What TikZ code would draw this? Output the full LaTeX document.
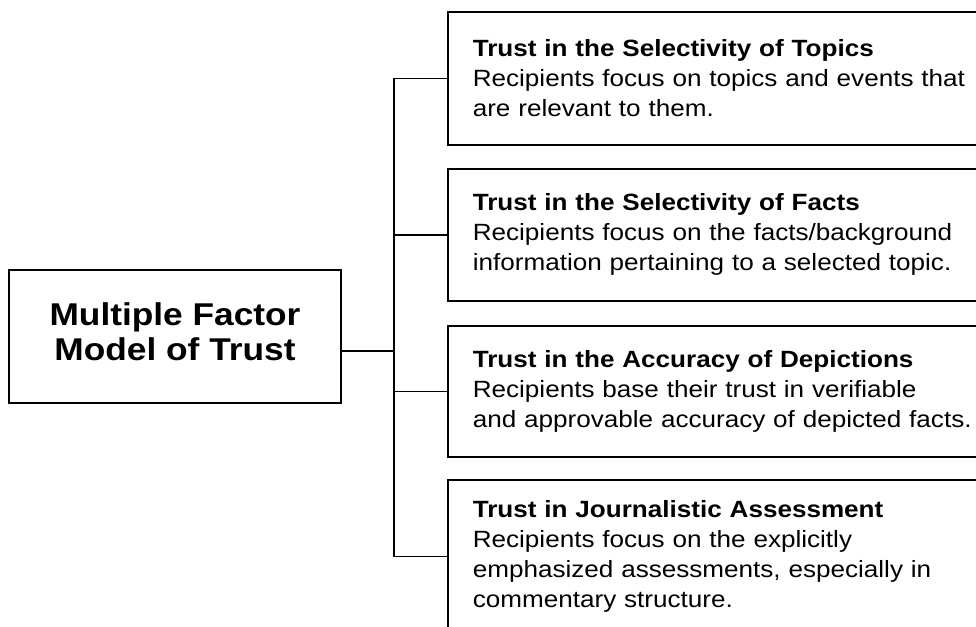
\documentclass[tikz,border=0pt]{standalone}
\usepackage{fontspec}
\setmainfont{Liberation Sans}[FakeStretch=1.11]
\newfontfamily\titlefont{Liberation Sans}[FakeStretch=1.12]
\usepackage{tikz}
\tikzset{model/.style={draw, line width=1.6pt, minimum width=332pt, minimum height=133pt, align=center, text depth=10pt, font=\titlefont\fontsize{31.5}{35}\selectfont\bfseries}}
\tikzset{factor/.style={draw, line width=1.6pt, anchor=north west, inner xsep=25pt, text width=560pt, align=left, font=\fontsize{23.5}{30}\selectfont}}
\tikzset{link/.style={line width=1.6pt}}

\begin{document}
\begin{tikzpicture}[x=1pt,y=-1pt]
%the model on the left, the four kinds of trust on the right, boxes run past the right edge
\clip (0,0) rectangle (976,626);
\node (model) at (175,336.5)[model]{Multiple Factor\\Model of Trust};
\node (f1) at (447,11)[factor, minimum height=133pt]{\textbf{Trust in the Selectivity of Topics}\\Recipients focus on topics and events that\\are relevant to them.};
\node (f2) at (447,168)[factor, minimum height=132pt]{\textbf{Trust in the Selectivity of Facts}\\Recipients focus on the facts/background\\information pertaining to a selected topic.};
\node (f3) at (447,325)[factor, minimum height=131pt]{\textbf{Trust in the Accuracy of Depictions}\\Recipients base their trust in verifiable\\and approvable accuracy of depicted facts.};
\node (f4) at (447,479)[factor, minimum height=153pt]{\textbf{Trust in Journalistic Assessment}\\Recipients focus on the explicitly\\emphasized assessments, especially in\\commentary structure.};
\coordinate (join) at (394,351);
\draw[link] (model.east |- join)--(join);
\draw[link] (f1.west)--(f1.west -| join)--(f4.west -| join)--(f4.west);
\draw[link] (f2.west -| join)--(f2.west);
\draw[link] (f3.west -| join)--(f3.west);
\end{tikzpicture}
\end{document}
